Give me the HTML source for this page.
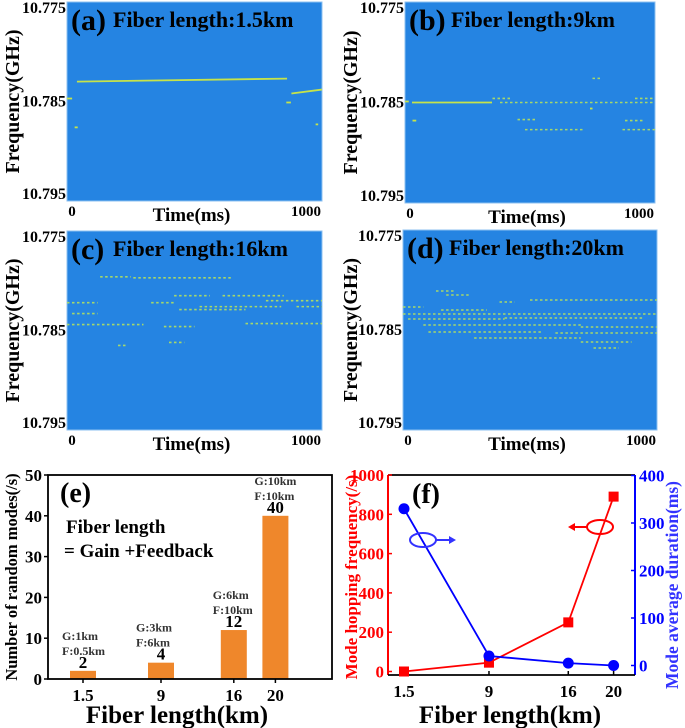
<!DOCTYPE html>
<html><head><meta charset="utf-8"><style>
body{margin:0;background:#fff;width:685px;height:728px;overflow:hidden}
svg{display:block}
text{font-family:"Liberation Serif",serif;font-weight:bold}
</style></head><body>
<svg id="fig" width="685" height="728" xmlns="http://www.w3.org/2000/svg"></svg>
<script>
// ---- Spectrogram data: [t0(ms), t1(ms), f0(GHz), f1(GHz), dotted]
const segA=[[39,863,10.7830,10.7827,0],[880,1000,10.7842,10.7838,0],[0,20,10.7847,10.7847,0],[860,878,10.7851,10.7851,0],[30,42,10.7876,10.7876,0],[975,985,10.7873,10.7873,0]];
const segB=[[0,15,10.7849,10.7849,0],[28,348,10.7850,10.7850,0],[350,430,10.7846,10.7846,1],[380,1000,10.7850,10.7850,1],[30,45,10.7868,10.7868,0],[450,520,10.7867,10.7867,1],[880,960,10.7868,10.7868,1],[480,720,10.7877,10.7877,1],[870,1000,10.7877,10.7877,1],[750,790,10.7826,10.7826,1],[920,1000,10.7846,10.7846,1],[740,750,10.7856,10.7856,0]];
const segC=[[130,250,10.7796,10.7796,1],[260,650,10.7797,10.7797,1],[420,560,10.7815,10.7815,1],[610,850,10.7815,10.7815,1],[0,120,10.7822,10.7822,1],[330,420,10.7822,10.7822,1],[780,1000,10.7820,10.7820,1],[520,840,10.7826,10.7826,1],[440,700,10.7829,10.7829,1],[900,1000,10.7826,10.7826,1],[0,300,10.7844,10.7844,1],[380,500,10.7846,10.7846,1],[700,1000,10.7843,10.7843,1],[400,460,10.7862,10.7862,1],[200,230,10.7865,10.7865,1],[20,120,10.7833,10.7833,1]];
const segD=[[130,200,10.7811,10.7811,1],[170,260,10.7815,10.7815,1],[380,440,10.7822,10.7822,1],[0,80,10.7827,10.7827,1],[150,330,10.7830,10.7830,1],[500,1000,10.7820,10.7820,1],[0,1000,10.7834,10.7834,1],[20,400,10.7839,10.7839,1],[400,950,10.7838,10.7838,1],[80,700,10.7845,10.7845,1],[700,1000,10.7847,10.7847,1],[100,550,10.7852,10.7852,1],[600,1000,10.7853,10.7853,1],[280,700,10.7858,10.7858,1],[700,900,10.7862,10.7862,1],[750,850,10.7868,10.7868,1]];
// ---- Panel e data
const eCats=[1.5,9,16,20];
const eVals=[2,4,12,40];
const eNotes=[["G:1km","F:0.5km"],["G:3km","F:6km"],["G:6km","F:10km"],["G:10km","F:10km"]];
const eTicks=[0,10,20,30,40,50];
// ---- Panel f data
const fCats=[1.5,9,16,20];
const fRed=[0,45,250,890];
const fBlue=[330,20,5,0];
const fLeftTicks=[0,200,400,600,800,1000];
const fRightTicks=[0,100,200,300,400];

const NS="http://www.w3.org/2000/svg";
const svg=document.getElementById('fig');
function mk(tag,attrs,parent){const e=document.createElementNS(NS,tag);for(const k in attrs)e.setAttribute(k,attrs[k]);(parent||svg).appendChild(e);return e;}
function txt(s,x,y,size,attrs,parent){const e=mk('text',Object.assign({x:x,y:y,'font-size':size},attrs||{}),parent);e.textContent=s;return e;}

const panels=[
 {id:'a',x:67,y:2,w:255,h:199,segs:segA,title:'Fiber length:1.5km',lx:2},
 {id:'b',x:405,y:2,w:250,h:201,segs:segB,title:'Fiber length:9km',lx:340},
 {id:'c',x:67,y:231,w:255,h:199,segs:segC,title:'Fiber length:16km',lx:2},
 {id:'d',x:403,y:230,w:254,h:200,segs:segD,title:'Fiber length:20km',lx:340}];
panels.forEach(p=>{
 const g=mk('g',{});
 
 
 mk('rect',{x:p.x,y:p.y,width:p.w,height:p.h,fill:'#2584e2',stroke:'#8cc0f0','stroke-width':1},g);
 const tx=t=>p.x+t/1000*p.w, fy=f=>p.y+(f-10.775)/0.02*p.h;
 p.segs.forEach(s=>{
  const l=mk('line',{x1:tx(s[0]),x2:tx(s[1]),y1:fy(s[2]),y2:fy(s[3]),stroke:s[4]?'#a6d86a':'#c6e34a','stroke-width':s[4]?1.6:1.8},g);
  if(s[4])l.setAttribute('stroke-dasharray','2.5 2.5');
  
  
 });
 const t1=txt('('+p.id+')',p.x+4,p.y+28,30,{},g);
 
 
 const t2=txt(p.title,p.x+46,p.y+25,22,{},g);
 
 
 [['10.775',10.775],['10.785',10.785],['10.795',10.795]].forEach(k=>{
  let yy=fy(k[1])+5; if(k[1]==10.775)yy=p.y+11; if(k[1]==10.795)yy=p.y+p.h-2;
  const e=txt(k[0],p.x-1,yy,16,{'text-anchor':'end'},g);
  
  
 });
 const yt=txt('Frequency(GHz)',0,0,20,{'text-anchor':'middle',transform:'translate('+(p.lx+17)+','+(p.y+p.h/2)+') rotate(-90)'},g);
 
 
 const x0=txt('0',p.x+5,p.y+p.h+15,15,{'text-anchor':'middle'},g);
 
 
 const x1=txt('1000',p.x+p.w-16,p.y+p.h+15,15,{'text-anchor':'middle'},g);
 
 
 const xt=txt('Time(ms)',p.x+p.w/2-3,p.y+p.h+20,19,{'text-anchor':'middle'},g);
 
 
});

// ---- Panel e
(function(){
 const L=48,R=332,T=475,B=679;
 const g=mk('g',{});
 
 
 const xs=v=>83+(v-1.5)*10.4, ys=v=>B-(v/50)*(B-T);
 eCats.forEach((c,i)=>{
  const r=mk('rect',{x:xs(c)-13,y:ys(eVals[i]),width:26,height:B-ys(eVals[i]),fill:'#ef872b'},g);
  
  
  const v=txt(String(eVals[i]),xs(c),ys(eVals[i])-3,17,{'text-anchor':'middle'},g);
  
  
  eNotes[i].forEach((n,j)=>{
   const e=txt(n,xs(c)-21+(i==1?-4:0),ys(eVals[i])-31+j*15,12,{fill:'#333'},g);
   
   
  });
  const tl=txt(String(c),xs(c),B+22,17,{'text-anchor':'middle'},g);
  
  
  mk('line',{x1:xs(c),x2:xs(c),y1:B,y2:B+4,stroke:'#000','stroke-width':1.5},g);
 });
 mk('rect',{x:L,y:T,width:R-L,height:B-T,fill:'none',stroke:'#000','stroke-width':1.8},g);
 eTicks.forEach(t=>{
  mk('line',{x1:L-4,x2:L,y1:ys(t),y2:ys(t),stroke:'#000','stroke-width':1.5},g);
  const e=txt(String(t),L-6,ys(t)+6,17,{'text-anchor':'end'},g);
  
  
 });
 const l=txt('(e)',60,502,28,{},g);  
 const a=txt('Fiber length',66,533,19,{},g);  
 const b=txt('= Gain +Feedback',64,557,19,{},g);  
 const yt=txt('Number of random modes(/s)',0,0,16.5,{'text-anchor':'middle',transform:'translate(17,577) rotate(-90)'},g);
  
 const xt=txt('Fiber length(km)',177,723,25,{'text-anchor':'middle'},g);
  
})();

// ---- Panel f
(function(){
 const L=388,R=635,T=475,B=675;
 const g=mk('g',{});
 
 
 const xs=v=>404+(v-1.5)*11.33, yl=v=>671.5-v*0.1965, yr=v=>665.5-v*0.475;
 mk('line',{x1:L,x2:L,y1:T,y2:B,stroke:'#f00','stroke-width':2},g);
 mk('line',{x1:R,x2:R,y1:T,y2:B,stroke:'#00f','stroke-width':2},g);
 mk('line',{x1:L,x2:R,y1:T,y2:T,stroke:'#000','stroke-width':1.8},g);
 mk('line',{x1:L,x2:R,y1:B,y2:B,stroke:'#000','stroke-width':1.8},g);
 fLeftTicks.forEach(t=>{
  mk('line',{x1:L,x2:L+4,y1:yl(t),y2:yl(t),stroke:'#f00','stroke-width':1.5},g);
  const e=txt(String(t),L-4,yl(t)+6,17,{'text-anchor':'end',fill:'#f00'},g);
   
 });
 fRightTicks.forEach(t=>{
  mk('line',{x1:R-4,x2:R,y1:yr(t),y2:yr(t),stroke:'#00f','stroke-width':1.5},g);
  const e=txt(String(t),R+4,yr(t)+6,17,{fill:'#00f'},g);
   
 });
 fCats.forEach(c=>{
  mk('line',{x1:xs(c),x2:xs(c),y1:B,y2:B-4,stroke:'#000','stroke-width':1.5},g);
  const e=txt(String(c),xs(c),B+22,17,{'text-anchor':'middle'},g);
   
 });
 const rp=mk('polyline',{points:fCats.map((c,i)=>xs(c)+','+yl(fRed[i])).join(' '),fill:'none',stroke:'#f00','stroke-width':1.8},g);
  
 const bp=mk('polyline',{points:fCats.map((c,i)=>xs(c)+','+yr(fBlue[i])).join(' '),fill:'none',stroke:'#00f','stroke-width':1.8},g);
  
 fCats.forEach((c,i)=>{
  const s=mk('rect',{x:xs(c)-5,y:yl(fRed[i])-5,width:10,height:10,fill:'#f00'},g);
   
  const d=mk('circle',{cx:xs(c),cy:yr(fBlue[i]),r:5.5,fill:'#00f'},g);
   
 });
 mk('ellipse',{cx:423,cy:540,rx:13,ry:7,fill:'none',stroke:'#33f','stroke-width':2},g);
 mk('line',{x1:436,x2:452,y1:540,y2:540,stroke:'#33f','stroke-width':2},g);
 mk('polygon',{points:'456,540 449,536 449,544',fill:'#33f'},g);
 mk('ellipse',{cx:600,cy:527,rx:13,ry:7,fill:'none',stroke:'#f00','stroke-width':2},g);
 mk('line',{x1:587,x2:573,y1:527,y2:527,stroke:'#f00','stroke-width':2},g);
 mk('polygon',{points:'568,527 575,523 575,531',fill:'#f00'},g);
 const l=txt('(f)',412,503,28,{},g);  
 const yt=txt('Mode hopping frequency(/s)',0,0,17,{'text-anchor':'middle',fill:'#f00',transform:'translate(357,577) rotate(-90)'},g);
  
 const yt2=txt('Mode average duration(ms)',0,0,17.5,{'text-anchor':'middle',fill:'#33f',transform:'translate(678,585) rotate(-90)'},g);
  
 const xt=txt('Fiber length(km)',510,723,25,{'text-anchor':'middle'},g);
  
})();
</script>
</body></html>
